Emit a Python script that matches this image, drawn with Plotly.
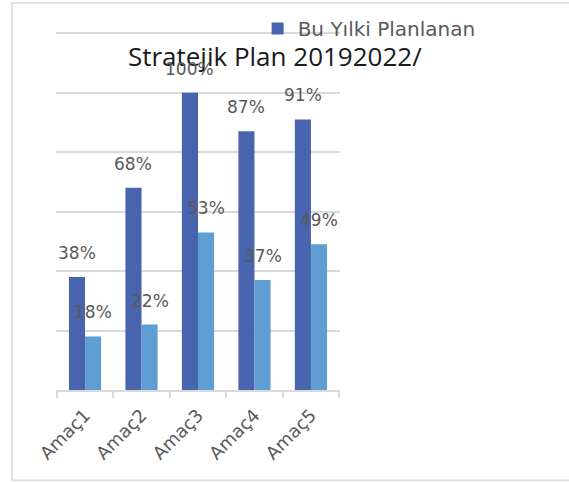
import plotly.graph_objects as go

categories = ["Amaç1", "Amaç2", "Amaç3", "Amaç4", "Amaç5"]
series1_name = "Bu Yılki Planlanan"
series1 = [38, 68, 100, 87, 91]
series2_name = "Gerçekleşen"
series2 = [18, 22, 53, 37, 49]
title_text = "Stratejik Plan 20192022/"

c1 = "#4864AE"
c2 = "#5F9ED3"
label_color = "#595959"

fig = go.Figure()
fig.add_trace(go.Bar(x=categories, y=series1, name=series1_name, marker_color=c1,
                     marker_line_width=0))
fig.add_trace(go.Bar(x=categories, y=series2, name=series2_name, marker_color=c2,
                     marker_line_width=0, showlegend=False))

bargap = 0.43
half = (1 - bargap) / 4  # offset of each bar center from category center
annotations = []
for i, (a, b) in enumerate(zip(series1, series2)):
    annotations.append(dict(x=i - half, y=a, xref="x", yref="y", text=f"{a}%",
                            showarrow=False, yanchor="bottom", yshift=12,
                            font=dict(size=17, color=label_color, family="DejaVu Sans")))
    annotations.append(dict(x=i + half, y=b, xref="x", yref="y", text=f"{b}%",
                            showarrow=False, yanchor="bottom", yshift=12,
                            font=dict(size=17, color=label_color, family="DejaVu Sans")))

fig.update_layout(
    width=569, height=482,
    margin=dict(l=56, r=229, t=32, b=92, autoexpand=False),
    paper_bgcolor="white", plot_bgcolor="white",
    barmode="group", bargap=bargap, bargroupgap=0,
    title=dict(text=title_text, x=0.483, xanchor="center", y=1 - 57 / 482,
               yanchor="middle", font=dict(size=26, color="#1a1a1a", family="Open Sans")),
    showlegend=True,
    legend=dict(x=0.71, y=1 - 9 / 482, yref="container", xanchor="left", yanchor="top",
                bgcolor="rgba(0,0,0,0)",
                font=dict(size=20, color=label_color, family="DejaVu Sans"),
                itemwidth=30),
    annotations=annotations,
    xaxis=dict(showgrid=False, showline=True, linecolor="#d9d9d9", linewidth=1.5,
               ticks="outside", tickson="boundaries", ticklen=6, tickcolor="#d9d9d9",
               tickwidth=1.5, tickangle=-45, automargin=False, ticklabelstandoff=6,
               tickfont=dict(size=18, color=label_color, family="DejaVu Sans")),
    yaxis=dict(range=[0, 120.4], tickvals=[0, 20, 40, 60, 80, 100, 120], showgrid=True,
               gridcolor="#d9d9d9", gridwidth=1.5,
               showticklabels=False, zeroline=False, showline=False, automargin=False),
    shapes=[dict(type="rect", xref="paper", yref="paper", x0=-0.155, x1=1.82,
                 y0=-0.252, y1=1.081, line=dict(color="#d9d9d9", width=1.5),
                 fillcolor="rgba(0,0,0,0)", layer="below")],
)

fig.write_html("out.html", config={"displayModeBar": False},
               post_script="document.body.style.margin='0';document.body.style.overflow='hidden';")
